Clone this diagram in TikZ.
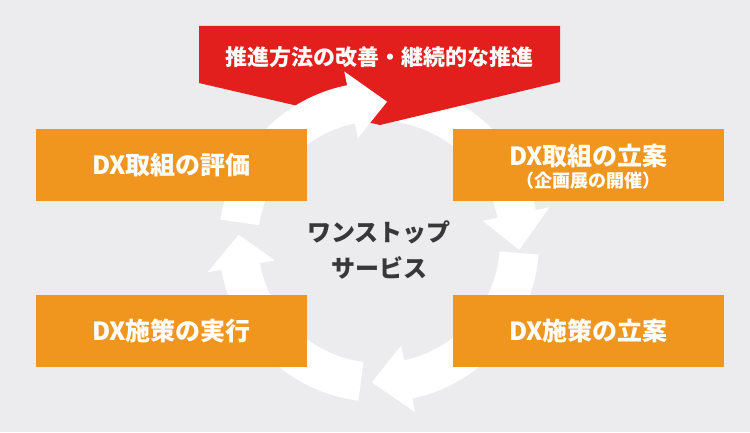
\documentclass[tikz,border=0pt]{standalone}
\usepackage{fontspec}
\setmainfont{Noto Sans CJK JP}
\definecolor{bgc}{HTML}{ECECEE}
\definecolor{boxorange}{HTML}{F0961E}
\definecolor{bannerred}{HTML}{E21F1C}
\definecolor{darktext}{HTML}{383838}
\newcommand\ringarrow[3]{%
  \fill[white, shift={(379,190)}] (#1:160) arc[start angle=#1, end angle=#2, radius=160]
    -- (#2:174) -- (#3:140.5) -- (#2:106) -- (#2:121)
    arc[start angle=#2, end angle=#1, radius=121] -- cycle;}
\tikzset{
  stepbox/.style={fill=boxorange, minimum width=271pt, minimum height=72pt, inner sep=0pt, text=white, font=\bfseries\fontsize{25}{30}\selectfont},
  centertxt/.style={text=darktext, font=\bfseries\fontsize{24}{28}\selectfont, inner sep=0pt},
}
\begin{document}
\begin{tikzpicture}[x=1pt,y=1pt]
\fill[bgc] (0,0) rectangle (750,432);
\useasboundingbox (0,0) rectangle (750,432);
% ring arrows below the banner
\ringarrow{84}{11.5}{-3.2}
\ringarrow{-4.5}{-78}{-92.9}
\ringarrow{-97.4}{-170}{-183}
% banner
\fill[bannerred] (199,406) -- (560,406) -- (560,350) -- (380,307) -- (199,349) -- cycle;
\node[text=white, font=\bfseries\fontsize{22}{26}\selectfont, inner sep=0pt] (banner) at (379.5,375) {推進方法の改善・継続的な推進};
% top arrow over the banner
\ringarrow{172}{101.5}{86.7}
% boxes
\node[stepbox] (eval) at (171.5,267) {DX取組の評価};
\node[stepbox] (exec) at (171.5,101) {DX施策の実行};
\node[stepbox] (plan) at (588.5,267) {};
\node[text=white, font=\bfseries\fontsize{25}{30}\selectfont, inner sep=0pt] (planA) at (588.5,276) {DX取組の立案};
\node[text=white, font=\bfseries\fontsize{18}{21}\selectfont, inner sep=0pt] (planB) at (588.5,251) {（企画展の開催）};
\node[stepbox] (measure) at (588.5,101) {DX施策の立案};
% center
\node[centertxt] (c1) at (379,200) {ワンストップ};
\node[centertxt] (c2) at (379,164) {サービス};
\end{tikzpicture}
\end{document}
